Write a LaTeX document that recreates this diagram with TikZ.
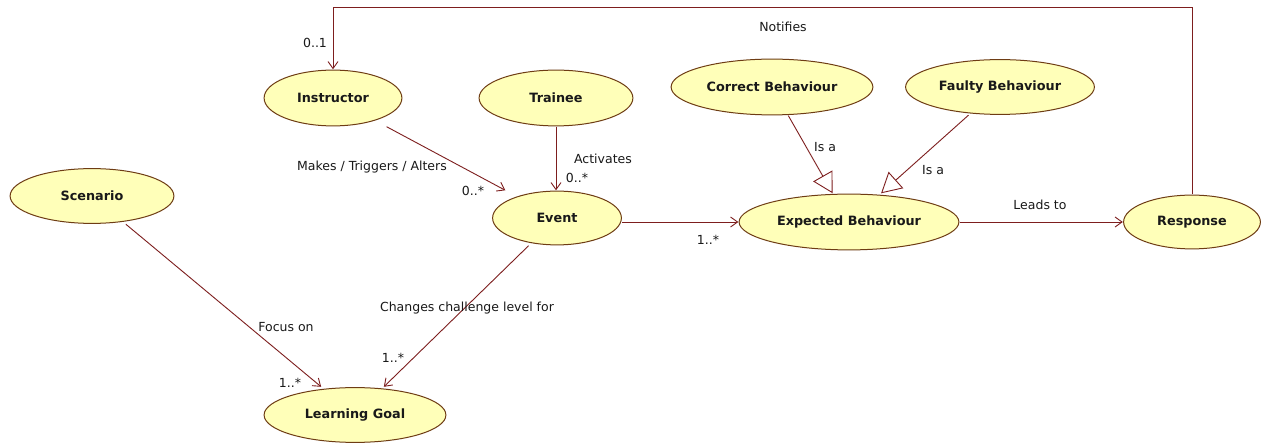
\documentclass[tikz,border=0pt]{standalone}
\usepackage{fontspec}
\setmainfont{DejaVu Sans}
\usetikzlibrary{arrows.meta,calc}
\definecolor{ucfill}{RGB}{255,255,185}
\definecolor{ucline}{RGB}{110,60,20}
\definecolor{conn}{RGB}{125,30,30}
\definecolor{txt}{RGB}{25,25,25}
\tikzset{
  uc/.style 2 args={rectangle, inner sep=0pt, minimum width=#1, minimum height=#2,
    text=txt, font=\fontsize{12.8}{15}\selectfont\bfseries,
    path picture={\draw[ucline, fill=ucfill, line width=1pt]
      let \p1=(path picture bounding box.north east), \p2=(path picture bounding box.center)
      in (\p2) ellipse [x radius={\x1-\x2-0.6pt}, y radius={\y1-\y2-0.6pt}];}},
  lbl/.style={inner sep=0pt, text=txt, font=\fontsize{12.5}{15}\selectfont},
  assoc/.style={draw=conn, line width=0.9pt, -{Straight Barb[length=7pt,width=10pt]}},
  gen/.style={draw=conn, line width=0.9pt, -{Triangle[open,length=20pt,width=22pt,fill=white]}}
}
\begin{document}
\begin{tikzpicture}[x=1pt,y=-1pt]
\useasboundingbox (0,0) rectangle (1262,443);
\fill[white] (0,0) rectangle (1262,443);
% use cases
\node[uc={165pt}{56pt}] (scen) at (92,196) {Scenario};
\node[uc={139pt}{57pt}] (instr) at (333,98) {Instructor};
\node[uc={155pt}{57pt}] (train) at (556,98) {Trainee};
\node[uc={130pt}{55pt}] (event) at (557,218) {Event};
\node[uc={203pt}{57pt}] (correct) at (772,87) {Correct Behaviour};
\node[uc={190pt}{56pt}] (faulty) at (1000,87) {Faulty Behaviour};
\node[uc={221pt}{57pt}] (expected) at (849,222) {Expected Behaviour};
\node[uc={138pt}{55pt}] (resp) at (1192,222) {Response};
\node[uc={183pt}{56pt}] (goal) at (355,415) {Learning Goal};
% connectors
\coordinate (ntop) at (0,7);
\draw[assoc] (resp.north) -- (resp.north |- ntop) -| (instr.north);
\draw[assoc] (instr) -- (event);
\draw[assoc] (train.south) -- (train.south |- event.north);
\draw[assoc] (event.east |- expected.west) -- (expected.west);
\draw[gen] (correct) -- (expected);
\draw[gen] (faulty) -- (expected);
\draw[assoc] (expected) -- (resp);
\draw[assoc] (scen) -- (goal);
\draw[assoc] (event) -- (goal);
% labels
\node[lbl] (lnot) at (783,27) {Notifies};
\node[lbl] (m01) at (315,43) {0..1};
\node[lbl] (lmake) at (372,167) {Makes / Triggers / Alters};
\node[lbl] (m0a) at (473,191) {0..*};
\node[lbl] (lact) at (603,159) {Activates};
\node[lbl] (m0b) at (577,178) {0..*};
\node[lbl] (m1a) at (708,240) {1..*};
\node[lbl] (lisa1) at (825,147) {Is a};
\node[lbl] (lisa2) at (933,170) {Is a};
\node[lbl] (llead) at (1040,205) {Leads to};
\node[lbl] (lfocus) at (286,327) {Focus on};
\node[lbl] (m1b) at (290,383) {1..*};
\node[lbl] (lchg) at (467,308) {Changes challenge level for};
\node[lbl] (m1c) at (393,358) {1..*};
\end{tikzpicture}
\end{document}
